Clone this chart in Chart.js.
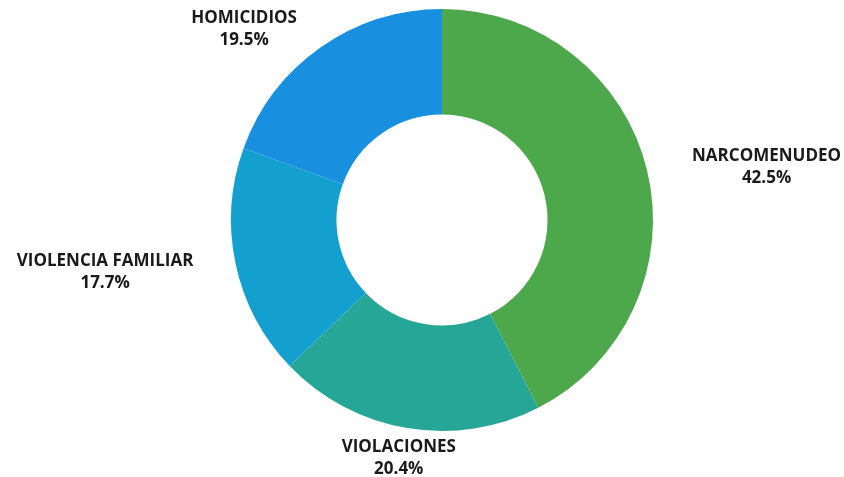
<!DOCTYPE html>
<html>
<head>
<meta charset="utf-8">
<script src="https://cdn.jsdelivr.net/npm/chart.js@4"></script>
<style>
  html, body { margin: 0; padding: 0; background: #ffffff; }
  #wrap { width: 844px; height: 477px; position: relative; }
</style>
</head>
<body>
<div id="wrap"><canvas id="donutChart"></canvas></div>
<script>
const categories = ["NARCOMENUDEO", "VIOLACIONES", "VIOLENCIA FAMILIAR", "HOMICIDIOS"];
const percentages = [42.5, 20.4, 17.7, 19.5];
const sliceColors = ["#4da84b", "#25a696", "#14a0cf", "#1890df"];

// small per-label nudges (px) relative to the computed outside anchor
const labelNudge = [[8, 5], [-2, -30], [-5, 0], [-2, 12]];

const outsideLabels = {
  id: "outsideLabels",
  afterDatasetsDraw(chart) {
    const ctx = chart.ctx;
    const meta = chart.getDatasetMeta(0);
    const lineGap = 22;
    ctx.save();
    ctx.fillStyle = "#1a1a1a";
    ctx.font = "bold 17px 'Open Sans'";
    ctx.textAlign = "center";
    ctx.textBaseline = "top";
    meta.data.forEach((arc, i) => {
      const p = arc.getProps(["x", "y", "startAngle", "endAngle", "outerRadius"], true);
      const mid = (p.startAngle + p.endAngle) / 2;
      const r = p.outerRadius + 38;
      const ax = p.x + Math.cos(mid) * r + labelNudge[i][0];
      const ay = p.y + Math.sin(mid) * r + labelNudge[i][1];
      const s = Math.cos(mid);
      const lines = [categories[i], percentages[i].toFixed(1) + "%"];
      const boxW = Math.max(...lines.map((t) => ctx.measureText(t).width));
      let cx = ax;
      if (s > 0.5) cx = ax + boxW / 2;
      else if (s < -0.5) cx = ax - boxW / 2;
      // centre of first line of capitals
      let c1;
      if (Math.abs(s) > 0.5) c1 = ay - lineGap / 2;
      else if (Math.sin(mid) > 0) c1 = ay + lineGap / 2;
      else c1 = ay - lineGap * 1.5;
      lines.forEach((t, k) => ctx.fillText(t, cx, c1 - 8 + k * lineGap));
    });
    ctx.restore();
  },
};

new Chart(document.getElementById("donutChart"), {
  type: "doughnut",
  data: {
    labels: categories,
    datasets: [
      {
        data: percentages,
        backgroundColor: sliceColors,
        borderWidth: 0,
      },
    ],
  },
  options: {
    responsive: true,
    maintainAspectRatio: false,
    animation: false,
    cutout: "50%",
    layout: { padding: { top: 9, bottom: 46, left: 40, right: 0 } },
    plugins: {
      legend: { display: false },
      tooltip: { enabled: false },
    },
  },
  plugins: [outsideLabels],
});
</script>
</body>
</html>
